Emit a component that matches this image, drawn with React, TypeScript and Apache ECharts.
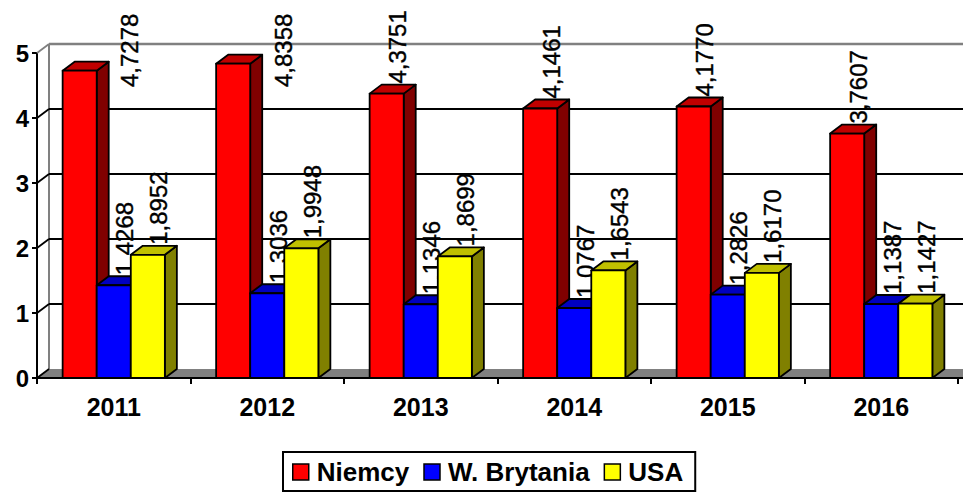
import React, { useEffect, useRef } from "react";
import * as echarts from "echarts";

const CATEGORIES = ["2011", "2012", "2013", "2014", "2015", "2016"];
const SERIES_NAMES = ["Niemcy", "W. Brytania", "USA"];
const NIEMCY = [4.7278, 4.8358, 4.3751, 4.1461, 4.177, 3.7607];
const UK = [1.4268, 1.3036, 1.1346, 1.0767, 1.2826, 1.1387];
const USA = [1.8952, 1.9948, 1.8699, 1.6543, 1.617, 1.1427];
const Y_TICKS = [0, 1, 2, 3, 4, 5];

const FONT = '"Liberation Sans", Arial, sans-serif';
const DX = 12;
const DY = -9;

const PALETTE = [
  { front: "#FF0000", top: "#C00000", side: "#800000" },
  { front: "#0000FF", top: "#0000C0", side: "#000080" },
  { front: "#FFFF00", top: "#C0C000", side: "#808000" },
];

const fmt = (v: number) => v.toFixed(4).replace(".", ",");

function barRender(s: number) {
  const c = PALETTE[s];
  return (params: any, api: any) => {
    const idx = api.value(0);
    const v = api.value(1);
    const [cx, yTop] = api.coord([idx, v]);
    const y0 = api.coord([idx, 0])[1];
    const band = api.size([1, 0])[0];
    const w = band * 0.222;
    const x0 = cx - 1.5 * w + s * w;
    const x1 = x0 + w;
    const stroke = { stroke: "#000", lineWidth: 1.8, lineJoin: "round" };
    const labelLen = 74;
    let lb = yTop - 10;
    let lx = x1 - 6;
    if (lb - labelLen < 5) {
      lb = 13 + labelLen;
      lx = x1 + 33;
    }
    return {
      type: "group",
      children: [
        {
          type: "polygon",
          shape: {
            points: [
              [x1, yTop],
              [x1 + DX, yTop + DY],
              [x1 + DX, y0 + DY],
              [x1, y0],
            ],
          },
          style: { fill: c.side, ...stroke },
        },
        {
          type: "polygon",
          shape: {
            points: [
              [x0, yTop],
              [x0 + DX, yTop + DY],
              [x1 + DX, yTop + DY],
              [x1, yTop],
            ],
          },
          style: { fill: c.top, ...stroke },
        },
        {
          type: "rect",
          shape: { x: x0, y: yTop, width: w, height: y0 - yTop },
          style: { fill: c.front, ...stroke },
        },
        {
          type: "text",
          x: lx,
          y: lb,
          rotation: Math.PI / 2,
          style: {
            text: fmt(v),
            fill: "#000",
            fontSize: 24,
            fontFamily: FONT,
            align: "left",
            verticalAlign: "middle",
            stroke: "#000",
            lineWidth: 0.4,
          },
        },
      ],
    };
  };
}

function wallRender(params: any, api: any) {
  const cs = params.coordSys;
  const left = cs.x;
  const right = cs.x + cs.width;
  const bottom = cs.y + cs.height;
  const children: any[] = [];
  children.push({
    type: "polygon",
    shape: {
      points: [
        [left, bottom],
        [left + DX, bottom + DY],
        [right + DX + 10, bottom + DY],
        [right + 10, bottom],
      ],
    },
    style: { fill: "#808080" },
  });
  const yMax = api.coord([0, Y_TICKS[Y_TICKS.length - 1]])[1];
  children.push({
    type: "line",
    shape: { x1: left + DX, y1: yMax + DY, x2: left + DX, y2: bottom + DY },
    style: { stroke: "#808080", lineWidth: 2 },
  });
  Y_TICKS.forEach((t, i) => {
    const y = api.coord([0, t])[1];
    const isTop = i === Y_TICKS.length - 1;
    if (i > 0) {
      children.push({
        type: "line",
        shape: { x1: left + DX, y1: y + DY, x2: right + DX + 10, y2: y + DY },
        style: { stroke: isTop ? "#808080" : "#000", lineWidth: isTop ? 2.5 : 2 },
      });
    }
    children.push({
      type: "line",
      shape: { x1: left, y1: y, x2: left + DX, y2: y + DY },
      style: { stroke: isTop ? "#808080" : "#000", lineWidth: 1.8 },
    });
  });
  children.push({
    type: "line",
    shape: { x1: left, y1: bottom, x2: right + 10, y2: bottom },
    style: { stroke: "#000", lineWidth: 2 },
  });
  return { type: "group", children };
}

export default function App() {
  const ref = useRef<HTMLDivElement>(null);
  useEffect(() => {
    document.body.style.margin = "0";
    if (!ref.current) return;
    const chart = echarts.init(ref.current, null, { renderer: "svg" });
    const seriesData = [NIEMCY, UK, USA];
    chart.setOption({
      animation: false,
      backgroundColor: "#fff",
      grid: { left: 37, right: 5, top: 53, bottom: 114, containLabel: false },
      xAxis: {
        type: "category",
        data: CATEGORIES,
        axisLine: { show: true, lineStyle: { color: "#000", width: 2 } },
        axisTick: { show: true, length: 6, lineStyle: { color: "#000", width: 2 } },
        axisLabel: {
          color: "#000",
          fontSize: 25,
          fontWeight: "bold",
          fontFamily: FONT,
          margin: 16,
        },
        splitLine: { show: false },
      },
      yAxis: {
        type: "value",
        min: 0,
        max: 5,
        interval: 1,
        axisLine: { show: true, lineStyle: { color: "#000", width: 2 } },
        axisTick: { show: true, length: 5, lineStyle: { color: "#000", width: 2 } },
        axisLabel: {
          color: "#000",
          fontSize: 24,
          fontWeight: "bold",
          fontFamily: FONT,
          margin: 8,
        },
        splitLine: { show: false },
      },
      legend: {
        left: 283,
        top: 452,
        orient: "horizontal",
        data: SERIES_NAMES,
        icon: "rect",
        itemWidth: 16,
        itemHeight: 16,
        itemGap: 14,
        padding: [7, 12, 6, 9],
        borderColor: "#000",
        borderWidth: 2,
        itemStyle: { borderColor: "#000", borderWidth: 1.5 },
        textStyle: {
          color: "#000",
          fontSize: 26,
          fontWeight: "bold",
          fontFamily: FONT,
          padding: [0, 0, 0, 3],
        },
      },
      series: [
        {
          type: "custom",
          name: "wall",
          renderItem: wallRender,
          data: [[0, 0]],
          encode: { x: 0, y: 1 },
          silent: true,
        },
        ...seriesData.map((d, s) => ({
          type: "custom",
          name: SERIES_NAMES[s],
          renderItem: barRender(s),
          itemStyle: { color: PALETTE[s].front },
          data: d.map((v, i) => [i, v]),
          encode: { x: 0, y: 1 },
        })),
      ],
    });
    return () => chart.dispose();
  }, []);
  return <div ref={ref} style={{ width: 963, height: 492 }} />;
}
